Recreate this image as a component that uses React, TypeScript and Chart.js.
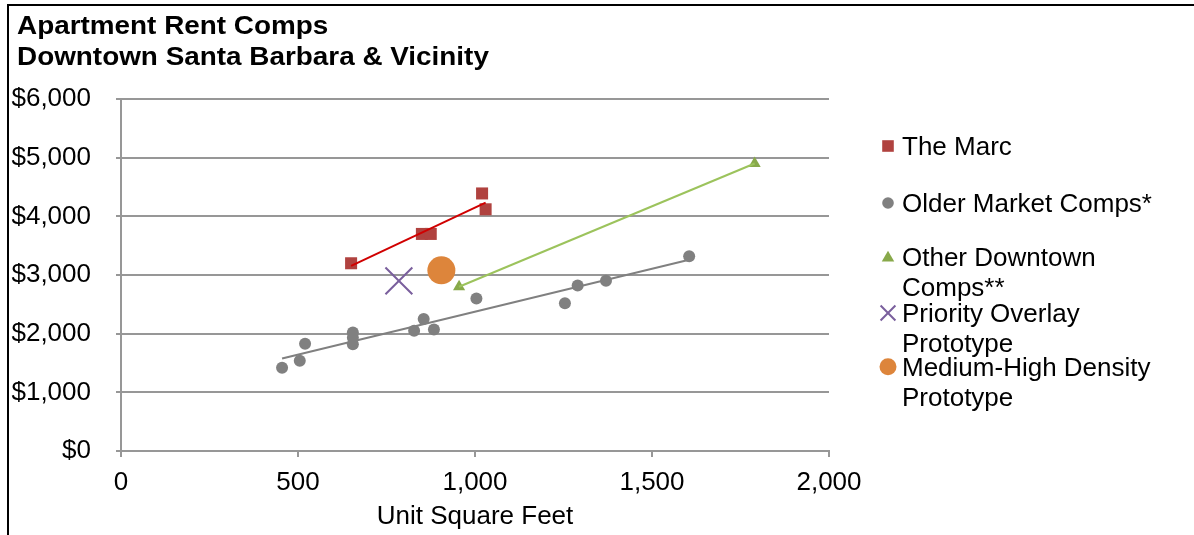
import React, { useEffect, useRef } from 'react';
import { Chart, registerables } from 'chart.js';

Chart.register(...registerables);

// ---------- data ----------
const titleLines = ['Apartment Rent Comps', 'Downtown Santa Barbara & Vicinity'];
const xAxisTitle = 'Unit Square Feet';
const xTickValues = [0, 500, 1000, 1500, 2000];
const yTickValues = [0, 1000, 2000, 3000, 4000, 5000, 6000];

const marcSqft = [650, 850, 875, 1020, 1030];
const marcRent = [3200, 3700, 3700, 4390, 4120];

const olderSqft = [455, 505, 520, 655, 655, 655, 828, 855, 884, 1004, 1254, 1290, 1370, 1605];
const olderRent = [1420, 1540, 1830, 2020, 1930, 1820, 2050, 2250, 2070, 2600, 2520, 2820, 2900, 3320];

const otherSqft = [955, 1790];
const otherRent = [2800, 4900];

const prioritySqft = [785];
const priorityRent = [2900];

const medHighSqft = [905];
const medHighRent = [3080];

const seriesNames = [
  'The Marc',
  'Older Market Comps*',
  'Other Downtown Comps**',
  'Priority Overlay Prototype',
  'Medium-High Density Prototype',
];
const legendLines = [
  ['The Marc'],
  ['Older Market Comps*'],
  ['Other Downtown', 'Comps**'],
  ['Priority Overlay', 'Prototype'],
  ['Medium-High Density', 'Prototype'],
];

// ---------- helpers ----------
const FONT = '"Liberation Sans", Arial, Helvetica, sans-serif';

function pts(xs: number[], ys: number[]) {
  return xs.map((x, i) => ({ x, y: ys[i] }));
}

function trend(xs: number[], ys: number[]) {
  const n = xs.length;
  const mx = xs.reduce((a, b) => a + b, 0) / n;
  const my = ys.reduce((a, b) => a + b, 0) / n;
  let sxy = 0;
  let sxx = 0;
  for (let i = 0; i < n; i++) {
    sxy += (xs[i] - mx) * (ys[i] - my);
    sxx += (xs[i] - mx) * (xs[i] - mx);
  }
  const slope = sxy / sxx;
  const b = my - slope * mx;
  const x0 = Math.min(...xs);
  const x1 = Math.max(...xs);
  return [
    { x: x0, y: b + slope * x0 },
    { x: x1, y: b + slope * x1 },
  ];
}

const fmt = (v: number) => Number(v).toLocaleString('en-US');

const colors = {
  marc: '#b0423f',
  older: '#808080',
  other: '#88a94a',
  otherLine: '#9cc35c',
  priority: '#7a5f9d',
  medHigh: '#dd853b',
  marcLine: '#d00000',
  grid: '#979797',
};

const legendStyles = [
  { style: 'rect', color: colors.marc, r: 8.2 },
  { style: 'circle', color: colors.older, r: 5.8 },
  { style: 'triangle', color: colors.other, r: 7.2 },
  { style: 'crossRot', color: colors.priority, r: 10.5 },
  { style: 'circle', color: colors.medHigh, r: 8.5 },
];

function drawMarker(ctx: CanvasRenderingContext2D, style: string, color: string, r: number, x: number, y: number) {
  ctx.save();
  ctx.fillStyle = color;
  ctx.strokeStyle = color;
  ctx.beginPath();
  if (style === 'rect') {
    const s = r * Math.SQRT1_2;
    ctx.rect(x - s, y - s, 2 * s, 2 * s);
    ctx.fill();
  } else if (style === 'circle') {
    ctx.arc(x, y, r, 0, Math.PI * 2);
    ctx.fill();
  } else if (style === 'triangle') {
    for (let k = 0; k < 3; k++) {
      const a = (k * 2 * Math.PI) / 3;
      const px = x + Math.sin(a) * r;
      const py = y - Math.cos(a) * r + r * 0.2;
      if (k === 0) ctx.moveTo(px, py);
      else ctx.lineTo(px, py);
    }
    ctx.closePath();
    ctx.fill();
  } else if (style === 'crossRot') {
    const d = r * Math.SQRT1_2;
    ctx.lineWidth = 2;
    ctx.moveTo(x - d, y - d);
    ctx.lineTo(x + d, y + d);
    ctx.moveTo(x - d, y + d);
    ctx.lineTo(x + d, y - d);
    ctx.stroke();
  }
  ctx.restore();
}

const decorPlugin = {
  id: 'decor',
  afterDraw(chart: any) {
    const ctx: CanvasRenderingContext2D = chart.ctx;
    ctx.save();
    // frame
    ctx.fillStyle = '#000';
    ctx.fillRect(7, 4, 2, chart.height);
    ctx.fillRect(7, 4, chart.width, 2);

    // title
    ctx.fillStyle = '#000';
    ctx.font = `bold 25px ${FONT}`;
    ctx.textAlign = 'left';
    ctx.textBaseline = 'alphabetic';
    const baselines = [34, 64.5];
    titleLines.forEach((t, i) => {
      ctx.save();
      ctx.translate(17, baselines[i]);
      ctx.scale(1.115, 1);
      ctx.fillText(t, 0, 0);
      ctx.restore();
    });

    // legend
    const firstLineY = [146, 203, 256.5, 313, 366.7];
    const lineGap = 29.7;
    ctx.font = `26px ${FONT}`;
    legendLines.forEach((lines, i) => {
      const st = legendStyles[i];
      drawMarker(ctx, st.style, st.color, st.r, 888, firstLineY[i]);
      ctx.fillStyle = '#000';
      lines.forEach((ln, j) => {
        ctx.fillText(ln, 902, firstLineY[i] + j * lineGap + 9.3);
      });
    });
    ctx.restore();
  },
};

export default function App() {
  const ref = useRef<HTMLCanvasElement | null>(null);

  useEffect(() => {
    document.body.style.margin = '0';
    const canvas = ref.current;
    if (!canvas) return;

    const chart = new Chart(canvas, {
      type: 'scatter',
      data: {
        datasets: [
          {
            label: seriesNames[0] + ' trend',
            data: trend(marcSqft, marcRent),
            showLine: true,
            borderColor: colors.marcLine,
            borderWidth: 2,
            pointRadius: 0,
            order: 0,
          },
          {
            label: seriesNames[1] + ' trend',
            data: trend(olderSqft, olderRent),
            showLine: true,
            borderColor: colors.older,
            borderWidth: 2,
            pointRadius: 0,
            order: 0,
          },
          {
            label: seriesNames[2] + ' trend',
            data: trend(otherSqft, otherRent),
            showLine: true,
            borderColor: colors.otherLine,
            borderWidth: 2,
            pointRadius: 0,
            order: 0,
          },
          {
            label: seriesNames[0],
            data: pts(marcSqft, marcRent),
            pointStyle: 'rect',
            pointRadius: 8.5,
            backgroundColor: colors.marc,
            borderColor: colors.marc,
            borderWidth: 0,
            order: 1,
          },
          {
            label: seriesNames[1],
            data: pts(olderSqft, olderRent),
            pointStyle: 'circle',
            pointRadius: 6,
            backgroundColor: colors.older,
            borderColor: colors.older,
            borderWidth: 0,
            order: 1,
          },
          {
            label: seriesNames[2],
            data: pts(otherSqft, otherRent),
            pointStyle: 'triangle',
            pointRadius: 7,
            backgroundColor: colors.other,
            borderColor: colors.other,
            borderWidth: 0,
            order: 1,
          },
          {
            label: seriesNames[3],
            data: pts(prioritySqft, priorityRent),
            pointStyle: 'crossRot',
            pointRadius: 19,
            backgroundColor: colors.priority,
            borderColor: colors.priority,
            borderWidth: 2,
            order: 1,
          },
          {
            label: seriesNames[4],
            data: pts(medHighSqft, medHighRent),
            pointStyle: 'circle',
            pointRadius: 14,
            backgroundColor: colors.medHigh,
            borderColor: colors.medHigh,
            borderWidth: 0,
            order: 1,
          },
        ],
      },
      options: {
        responsive: false,
        animation: false,
        events: [],
        layout: { padding: { left: 0, top: 99, right: 365, bottom: 0 } },
        plugins: {
          legend: { display: false },
          title: { display: false },
          tooltip: { enabled: false },
        },
        scales: {
          x: {
            type: 'linear',
            min: 0,
            max: 2000,
            afterBuildTicks: (s: any) => {
              s.ticks = xTickValues.map((v) => ({ value: v }));
            },
            afterFit: (s: any) => {
              s.height = 84;
            },
            ticks: {
              font: { family: FONT, size: 26 },
              color: '#000',
              padding: 10,
              maxRotation: 0,
              callback: (v: any) => fmt(v),
            },
            grid: {
              drawOnChartArea: false,
              drawTicks: true,
              tickLength: 6,
              color: colors.grid,
              lineWidth: 2,
            },
            border: { display: true, color: colors.grid, width: 2 },
            title: {
              display: true,
              text: xAxisTitle,
              font: { family: FONT, size: 26 },
              color: '#000',
              padding: { top: 0, bottom: 3 },
            },
          },
          y: {
            type: 'linear',
            min: 0,
            max: 6000,
            afterBuildTicks: (s: any) => {
              s.ticks = yTickValues.map((v) => ({ value: v }));
            },
            afterFit: (s: any) => {
              s.width = 121;
            },
            ticks: {
              font: { family: FONT, size: 26 },
              color: '#000',
              padding: 25,
              callback: (v: any) => '$' + fmt(v),
            },
            grid: {
              drawOnChartArea: true,
              drawTicks: true,
              tickLength: 5,
              color: colors.grid,
              lineWidth: 2,
            },
            border: { display: true, color: colors.grid, width: 2 },
          },
        },
      },
      plugins: [decorPlugin],
    } as any);

    return () => chart.destroy();
  }, []);

  return (
    <div style={{ width: 1194, height: 535, position: 'relative', background: '#fff' }}>
      <canvas ref={ref} width={1194} height={535} style={{ display: 'block' }} />
    </div>
  );
}
